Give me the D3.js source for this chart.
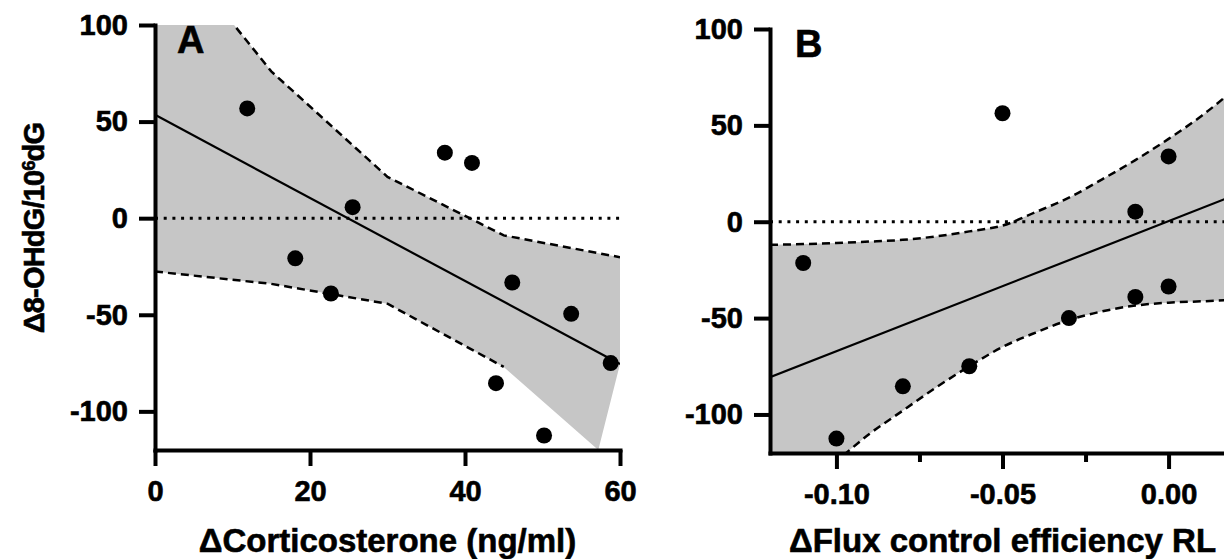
<!DOCTYPE html>
<html>
<head>
<meta charset="utf-8">
<script src="https://cdn.jsdelivr.net/npm/d3@7"></script>
<style>
  body { margin: 0; background: #fff; }
  svg { display: block; font-family: "Liberation Sans", Arial, Helvetica, sans-serif; font-weight: bold; }
  svg text { stroke: #000; stroke-width: 0.6px; }
  .axis path, .axis line { stroke: #000; stroke-width: 4; }
  .axis path { stroke-linecap: square; }
  .axis text { font-family: "Liberation Sans", Arial, sans-serif; font-size: 29px; font-weight: bold; fill: #000; }
</style>
</head>
<body>
<div id="container"></div>
<script>
// two scatter plots with linear fit + 95% band (8-OHdG vs corticosterone / flux control)

// ---- panel A : corticosterone ----
var corticoX = [11.9, 18.1, 22.7, 25.5, 37.4, 40.9, 46.1, 44.0, 53.7, 58.8, 50.2];
var corticoY = [56.8, -20.8, -39, 5.7, 33.9, 28.6, -33.3, -85.4, -49.5, -75, -112.5];
var corticoFitX = [0, 60];
var corticoFitY = [53.5, -75.5];
var corticoBandX = [0, 15, 30, 45, 57.2, 60];
var corticoBandUpper = [151, 76, 21.4, -8.9, -18.1, -20.2];
var corticoBandLower = [-27.6, -34, -44.3, -77, -120, -75.5];
var corticoTicks = [0, 20, 40, 60];

// ---- panel B : flux control efficiency RL ----
var fluxX = [-0.11, -0.10, -0.08, -0.06, -0.05, -0.03, -0.01, 0.00, 0.00, -0.01];
var fluxY = [-21.4, -112.5, -85.4, -75, 56.3, -50, -39, -33.6, 33.9, 5.2];
var fluxFitX = [-0.12, 0.02];
var fluxFitY = [-80.7, 13.8];
var fluxBandX = [-0.12, -0.11, -0.10, -0.09, -0.08, -0.07, -0.06, -0.05, -0.04, -0.03, -0.02, -0.01, 0.00, 0.01, 0.02];
var fluxBandUpper = [-12, -11.6, -11, -10.3, -9.4, -7.6, -5, -2, 5, 12.5, 22, 32, 43, 55, 69];
var fluxBandLower = [-149, -136, -124, -110, -98, -86, -75, -65, -57.5, -51, -46.5, -43.5, -42, -41.3, -40.5];
var fluxTicks = [-0.10, -0.05, 0.00];
var fluxMinorTicks = [-0.075, -0.025];

// shared y
var oxTicks = [-100, -50, 0, 50, 100];

var svg = d3.select("#container").append("svg")
    .attr("width", 1224)
    .attr("height", 559);

function drawPanel(p) {
  var x = d3.scaleLinear().domain(p.xDomain).range([p.left, p.right]);
  var y = d3.scaleLinear().domain([-120, 100]).range([p.bottom, p.top]);

  var g = svg.append("g");

  svg.append("clipPath").attr("id", "clip-" + p.id)
    .append("rect")
      .attr("x", p.left).attr("y", p.top)
      .attr("width", p.right - p.left)
      .attr("height", p.bottom - p.top);

  var plot = g.append("g").attr("clip-path", "url(#clip-" + p.id + ")");

  var band = p.bandX.map(function(d, i) { return [d, p.upper[i], p.lower[i]]; });

  // grey confidence band
  plot.append("path")
      .datum(band)
      .attr("fill", "#c6c6c6")
      .attr("d", d3.area()
          .x(function(d) { return x(d[0]); })
          .y0(function(d) { return y(d[2]); })
          .y1(function(d) { return y(d[1]); })
          .curve(p.curve));

  // dotted zero line
  plot.append("line")
      .attr("x1", x(p.xDomain[0])).attr("x2", x(p.xDomain[1]))
      .attr("y1", y(0)).attr("y2", y(0))
      .attr("stroke", "#000")
      .attr("stroke-width", 3)
      .attr("stroke-dasharray", "3 5.7");

  // dashed band edges
  var upperLine = d3.line()
      .x(function(d) { return x(d[0]); })
      .y(function(d) { return y(d[1]); })
      .curve(p.curve);
  var lowerLine = d3.line()
      .x(function(d) { return x(d[0]); })
      .y(function(d) { return y(d[2]); })
      .curve(p.curve);

  plot.append("path").datum(band.slice(0, p.upperEnd))
      .attr("fill", "none").attr("stroke", "#000")
      .attr("stroke-width", 2.5).attr("stroke-dasharray", "8 5")
      .attr("d", upperLine);
  plot.append("path").datum(band.slice(0, p.lowerEnd))
      .attr("fill", "none").attr("stroke", "#000")
      .attr("stroke-width", 2.5).attr("stroke-dasharray", "8 5")
      .attr("d", lowerLine);

  // regression line
  plot.append("line")
      .attr("x1", x(p.fitX[0])).attr("y1", y(p.fitY[0]))
      .attr("x2", x(p.fitX[1])).attr("y2", y(p.fitY[1]))
      .attr("stroke", "#000")
      .attr("stroke-width", 2.2);

  // points
  g.selectAll(".dot")
      .data(p.px.map(function(d, i) { return [d, p.py[i]]; }))
    .enter().append("circle")
      .attr("cx", function(d) { return x(d[0]); })
      .attr("cy", function(d) { return y(d[1]); })
      .attr("r", 8)
      .attr("fill", "#000");

  // axes
  var xAxis = d3.axisBottom(x)
      .tickValues(p.xTicks)
      .tickSize(16)
      .tickSizeOuter(0)
      .tickPadding(14)
      .tickFormat(p.xFormat);
  g.append("g")
      .attr("class", "axis")
      .attr("transform", "translate(0," + p.bottom + ")")
      .call(xAxis);

  if (p.xMinor) {
    g.append("g")
        .attr("class", "axis")
        .attr("transform", "translate(0," + p.bottom + ")")
        .call(d3.axisBottom(x).tickValues(p.xMinor).tickSize(9).tickSizeOuter(0).tickFormat(""))
      .select(".domain").remove();
  }

  var yAxis = d3.axisLeft(y)
      .tickValues(oxTicks)
      .tickSize(16)
      .tickSizeOuter(0)
      .tickPadding(11)
      .tickFormat(function(d) { return String(d); });
  g.append("g")
      .attr("class", "axis")
      .attr("transform", "translate(" + p.left + ",0)")
      .call(yAxis);

  // x axis title
  g.append("text")
      .attr("x", (p.left + p.right) / 2)
      .attr("y", 552)
      .attr("text-anchor", "middle")
      .style("font-size", "33px")
      .text(p.xTitle);

  // panel letter
  g.append("text")
      .attr("x", p.letterX)
      .attr("y", p.letterY)
      .style("font-size", "38px")
      .text(p.letter);
}

drawPanel({
  id: "a", left: 155, right: 620, top: 25, bottom: 450,
  xDomain: [0, 60], xTicks: corticoTicks, xFormat: function(d) { return String(d); },
  px: corticoX, py: corticoY, fitX: corticoFitX, fitY: corticoFitY,
  bandX: corticoBandX, upper: corticoBandUpper, lower: corticoBandLower,
  upperEnd: 6, lowerEnd: 4,   // lower dashed edge stops where it leaves the axis range
  curve: d3.curveLinear,
  xTitle: "\u0394Corticosterone (ng/ml)",
  letter: "A", letterX: 177, letterY: 53
});

drawPanel({
  id: "b", left: 770, right: 1235, top: 29, bottom: 453,
  xDomain: [-0.12, 0.02], xTicks: fluxTicks, xMinor: fluxMinorTicks,
  xFormat: function(d) { return d.toFixed(2); },
  px: fluxX, py: fluxY, fitX: fluxFitX, fitY: fluxFitY,
  bandX: fluxBandX, upper: fluxBandUpper, lower: fluxBandLower,
  upperEnd: fluxBandX.length, lowerEnd: fluxBandX.length,
  curve: d3.curveMonotoneX,
  xTitle: "\u0394Flux control efficiency RL",
  letter: "B", letterX: 795, letterY: 57
});

// y axis title (shared, left side)
var yt = svg.append("text")
    .attr("transform", "translate(44,228) rotate(-90)")
    .attr("text-anchor", "middle")
    .style("font-size", "29px")
    .style("letter-spacing", "-0.8px");
yt.append("tspan").text("\u03948-OHdG/10");
yt.append("tspan").attr("dy", "-9").style("font-size", "18px").text("6");
yt.append("tspan").attr("dy", "9").text("dG");
</script>
</body>
</html>
